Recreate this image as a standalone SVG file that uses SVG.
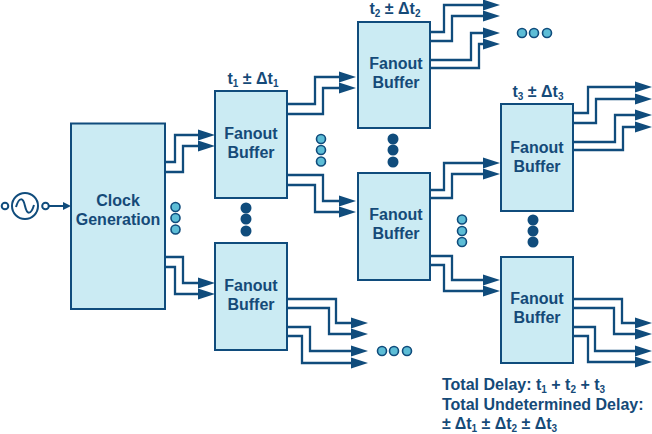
<svg xmlns="http://www.w3.org/2000/svg" width="652" height="434" viewBox="0 0 652 434">
<style>
.box{fill:#cbebf3;stroke:#104c7c;stroke-width:2}
.t{font-family:"Liberation Sans",Arial,sans-serif;font-weight:700;font-size:16px;fill:#154a78;text-anchor:middle}
.n{text-anchor:start}
.c{fill:none;stroke:#104c7c;stroke-width:2.3}
.a{fill:#104c7c;stroke:none}
.d{fill:#104c7c}
.b{fill:#5dbdd6;stroke:#104c7c;stroke-width:1.6}
.s{fill:none;stroke:#104c7c;stroke-width:2}
</style>
<defs>
<polygon id="ah" class="a" points="-17,-5.500 0,0 -17,5.500"/>
</defs>
<g id="source">
<circle class="s" cx="25" cy="206" r="13"/>
<circle class="s" cx="5" cy="206" r="3.300"/>
<circle class="s" cx="45.500" cy="206" r="3.300"/>
<path class="s" d="M16 207C19 197 23 197 25 206S31 215 34 205"/>
</g>
<g id="connectors">
<path class="s" d="M49 206H66"/>
<polygon class="a" points="63,202 71,206 63,210"/>
<path class="c" d="M165 162H175V135H200M165 172H183V146H200M165 257H183V283H200M165 267H175V294H200"/>
<path class="c" d="M287 104H315V77H342M287 114H323V88H342M287 175H323V201H342M287 185H315V212H342"/>
<path class="c" d="M287 299H336V323H354M287 308H329V334H354M287 327H310V351H354M287 336H302V363H354"/>
<path class="c" d="M430 32H444V5H486M430 41H452V16H486M430 60H471V33H486M430 68H479V44H486"/>
<path class="c" d="M430 190H444V163H486M430 198H452V174H486M430 256H452V280H486M430 265H444V291H486"/>
<path class="c" d="M573 113H588V87H638M573 123H596V99H638M573 142H615V115H638M573 150H623V127H638"/>
<path class="c" d="M573 299H622V323H638M573 308H614V334H638M573 327H595V351H638M573 336H588V362H638"/>
<use href="#ah" x="215" y="135"/><use href="#ah" x="215" y="146"/><use href="#ah" x="215" y="283"/><use href="#ah" x="215" y="294"/>
<use href="#ah" x="356" y="77"/><use href="#ah" x="356" y="88"/><use href="#ah" x="356" y="201"/><use href="#ah" x="356" y="212"/>
<use href="#ah" x="368" y="323"/><use href="#ah" x="368" y="334"/><use href="#ah" x="368" y="351"/><use href="#ah" x="368" y="363"/>
<use href="#ah" x="500" y="5"/><use href="#ah" x="500" y="16"/><use href="#ah" x="500" y="33"/><use href="#ah" x="500" y="44"/>
<use href="#ah" x="500" y="163"/><use href="#ah" x="500" y="174"/><use href="#ah" x="500" y="280"/><use href="#ah" x="500" y="291"/>
<use href="#ah" x="652" y="87"/><use href="#ah" x="652" y="99"/><use href="#ah" x="652" y="115"/><use href="#ah" x="652" y="127"/>
<use href="#ah" x="652" y="323"/><use href="#ah" x="652" y="334"/><use href="#ah" x="652" y="351"/><use href="#ah" x="652" y="362"/>
</g>
<g id="clock"><rect class="box" x="71" y="123.500" width="94" height="185.500"/><text class="t" x="118" y="206">Clock</text><text class="t" x="118" y="225">Generation</text></g>
<g id="fanout1"><rect class="box" x="215" y="91" width="72" height="107"/><text class="t" x="251" y="139">Fanout</text><text class="t" x="251" y="158">Buffer</text></g>
<g id="fanout1b"><rect class="box" x="215" y="243" width="72" height="107"/><text class="t" x="251" y="291">Fanout</text><text class="t" x="251" y="310">Buffer</text></g>
<g id="fanout2"><rect class="box" x="358" y="22" width="72" height="106"/><text class="t" x="396" y="69">Fanout</text><text class="t" x="396" y="88">Buffer</text></g>
<g id="fanout2b"><rect class="box" x="358" y="173" width="72" height="107"/><text class="t" x="396" y="220">Fanout</text><text class="t" x="396" y="239">Buffer</text></g>
<g id="fanout3"><rect class="box" x="501" y="104" width="72" height="107"/><text class="t" x="537" y="153">Fanout</text><text class="t" x="537" y="172">Buffer</text></g>
<g id="fanout3b"><rect class="box" x="501" y="257" width="72" height="106"/><text class="t" x="537" y="304">Fanout</text><text class="t" x="537" y="323">Buffer</text></g>
<g id="dots">
<circle class="b" cx="175.500" cy="207" r="4.500"/><circle class="b" cx="175.500" cy="218" r="4.500"/><circle class="b" cx="175.500" cy="229.500" r="4.500"/>
<circle class="b" cx="321" cy="139" r="4.500"/><circle class="b" cx="321" cy="150" r="4.500"/><circle class="b" cx="321" cy="161.500" r="4.500"/>
<circle class="b" cx="462" cy="219.500" r="4.500"/><circle class="b" cx="462" cy="231" r="4.500"/><circle class="b" cx="462" cy="242" r="4.500"/>
<circle class="b" cx="382" cy="351" r="4.500"/><circle class="b" cx="394" cy="351" r="4.500"/><circle class="b" cx="407" cy="351" r="4.500"/>
<circle class="b" cx="522" cy="33" r="4.500"/><circle class="b" cx="534" cy="33" r="4.500"/><circle class="b" cx="547" cy="33" r="4.500"/>
<circle class="d" cx="246" cy="208" r="5.500"/><circle class="d" cx="246" cy="219" r="5.500"/><circle class="d" cx="246" cy="231" r="5.500"/>
<circle class="d" cx="393" cy="139" r="5.500"/><circle class="d" cx="393" cy="150" r="5.500"/><circle class="d" cx="393" cy="162" r="5.500"/>
<circle class="d" cx="533" cy="220" r="5.500"/><circle class="d" cx="533" cy="231" r="5.500"/><circle class="d" cx="533" cy="242" r="5.500"/>
</g>
<g id="labels">
<text class="t" x="253" y="84">t<tspan font-size="10" dy="3">1</tspan><tspan dy="-3"> ± Δt</tspan><tspan font-size="10" dy="3">1</tspan></text>
<text class="t" x="395" y="14">t<tspan font-size="10" dy="3">2</tspan><tspan dy="-3"> ± Δt</tspan><tspan font-size="10" dy="3">2</tspan></text>
<text class="t" x="538" y="97">t<tspan font-size="10" dy="3">3</tspan><tspan dy="-3"> ± Δt</tspan><tspan font-size="10" dy="3">3</tspan></text>
<text class="t n" x="442" y="390">Total Delay: t<tspan font-size="10" dy="3">1</tspan><tspan dy="-3"> + t</tspan><tspan font-size="10" dy="3">2</tspan><tspan dy="-3"> + t</tspan><tspan font-size="10" dy="3">3</tspan></text>
<text class="t n" x="442" y="410">Total Undetermined Delay:</text>
<text class="t n" x="442" y="429">± Δt<tspan font-size="10" dy="3">1</tspan><tspan dy="-3"> ± Δt</tspan><tspan font-size="10" dy="3">2</tspan><tspan dy="-3"> ± Δt</tspan><tspan font-size="10" dy="3">3</tspan></text>
</g>
</svg>
